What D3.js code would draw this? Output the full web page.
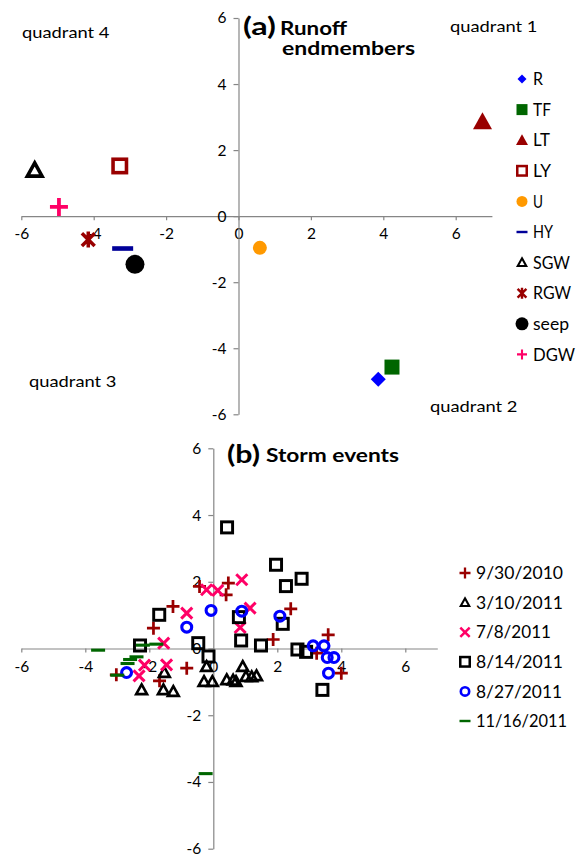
<!DOCTYPE html>
<html><head><meta charset="utf-8">
<script src="https://cdn.jsdelivr.net/npm/d3@7"></script>
<style>body{margin:0;background:#fff}svg{display:block}text{font-family:Lato,"Open Sans",sans-serif}</style>
</head><body>
<svg id="c" width="576" height="856"></svg>
<script>
// ---------- Data ----------
const tickValues = [-6, -4, -2, 0, 2, 4, 6];
const endNames = ["R", "TF", "LT", "LY", "U", "HY", "SGW", "RGW", "seep", "DGW"];
const endX = [3.86, 4.24, 6.74, -3.28, 0.59, -3.2, -5.63, -4.15, -2.86, -4.96];
const endY = [-4.94, -4.57, 2.86, 1.52, -0.96, -0.98, 1.39, -0.71, -1.46, 0.28];
const endColors = ["#0000ff", "#006600", "#990000", "#990000", "#ff9900", "#000099", "#000000", "#990000", "#000000", "#ff0066"];
const endShapes = ["diamond", "squareFill", "triFill", "squareOpen", "circleFill", "dash", "triOpen", "star", "circleFill", "plus"];
const quadrantLabels = ["quadrant 4", "quadrant 1", "quadrant 3", "quadrant 2"];

const stormNames = ["9/30/2010", "3/10/2011", "7/8/2011", "8/14/2011", "8/27/2011", "11/16/2011"];
const stormColors = ["#990000", "#000000", "#ff0066", "#000000", "#0000ff", "#006600"];
const stormShapes = ["plus", "triOpen", "cross", "squareOpen", "circleOpen", "dash"];
const s0930X = [-0.43, 0.47, 0.40, -1.26, -1.87, 2.42, 1.87, 3.59, 3.23, 4.00, -0.83, -1.68, -3.03];
const s0930Y = [1.86, 1.96, 1.61, 1.26, 0.61, 1.19, 0.27, 0.41, -0.14, -0.74, -0.59, -0.97, -0.79];
const s0310X = [-2.24, -1.56, -1.25, -1.53, -0.29, -0.03, -0.21, 0.42, 0.71, 0.92, 1.02, 1.20, 1.35, 0.62];
const s0310Y = [-1.24, -1.24, -1.29, -0.72, -0.99, -0.99, -0.54, -0.94, -0.99, -0.54, -0.84, -0.85, -0.82, -0.95];
const s0708X = [-0.21, 0.14, 0.89, 1.15, -0.83, 0.84, -1.55, -1.46, -2.15, -2.32];
const s0708Y = [1.76, 1.74, 2.06, 1.21, 1.06, 0.63, 0.16, -0.49, -0.50, -0.82];
const s0814X = [0.43, 1.96, 2.27, 2.76, 0.80, 2.17, 0.87, 1.49, 2.63, 2.90, 3.41, -0.15, -0.47, -2.29, -1.69];
const s0814Y = [3.63, 2.51, 1.87, 2.09, 0.94, 0.74, 0.24, 0.09, -0.03, -0.10, -1.24, -0.24, 0.16, 0.09, 1.01];
const s0827X = [-0.07, 0.89, 2.08, -0.83, -2.71, 3.12, 3.46, 3.56, 3.77, 3.60];
const s0827Y = [1.14, 1.12, 0.97, 0.64, -0.72, 0.08, 0.08, -0.27, -0.27, -0.74];
const s1116X = [-3.60, -2.20, -1.78, -2.40, -2.60, -2.68, -3.00, -0.24];
const s1116Y = [-0.05, 0.10, 0.13, -0.25, -0.33, -0.45, -0.80, -3.75];
const stormXs = [s0930X, s0310X, s0708X, s0814X, s0827X, s1116X];
const stormYs = [s0930Y, s0310Y, s0708Y, s0814Y, s0827Y, s1116Y];

// ---------- Drawing ----------
const svg = d3.select("#c");
const AXIS = "#868686";

function txt(g, s, x, y, size, width, bold, dy) {
  const t = g.append("text").attr("x", x).attr("y", y).style("font-size", size + "px").attr("fill", "#000").text(s);
  if (bold) t.style("font-weight", "bold");
  if (dy) t.attr("dy", dy);
  if (width) t.attr("textLength", width).attr("lengthAdjust", "spacingAndGlyphs");
  return t;
}

function marker(g, shape, color, s) {
  const h = s / 2;
  switch (shape) {
    case "diamond":
      g.append("path").attr("d", `M0,${-h}L${h},0L0,${h}L${-h},0Z`).attr("fill", color); break;
    case "squareFill":
      g.append("rect").attr("x", -h).attr("y", -h).attr("width", s).attr("height", s).attr("fill", color); break;
    case "triFill":
      g.append("path").attr("d", `M0,${-h}L${h},${h * 0.8}L${-h},${h * 0.8}Z`).attr("fill", color); break;
    case "squareOpen": {
      const sw = s * 0.21;
      g.append("rect").attr("x", -h + sw / 2).attr("y", -h + sw / 2).attr("width", s - sw).attr("height", s - sw)
        .attr("fill", "none").attr("stroke", color).attr("stroke-width", sw); break; }
    case "circleFill":
      g.append("circle").attr("r", h).attr("fill", color); break;
    case "circleOpen": {
      const sw = s * 0.24;
      g.append("circle").attr("r", h - sw / 2).attr("fill", "none").attr("stroke", color).attr("stroke-width", sw); break; }
    case "dash":
      g.append("rect").attr("x", -h).attr("y", -s * 0.11).attr("width", s).attr("height", s * 0.22).attr("fill", color); break;
    case "triOpen": {
      const sw = s * 0.19;
      const a = h - sw * 0.6;
      g.append("path").attr("d", `M0,${-a}L${a},${a * 0.8}L${-a},${a * 0.8}Z`)
        .attr("fill", "none").attr("stroke", color).attr("stroke-width", sw).attr("stroke-linejoin", "miter"); break; }
    case "star": {
      const a = h * 0.8;
      g.append("path").attr("d", `M${-a},${-a}L${a},${a}M${a},${-a}L${-a},${a}M0,${-h}L0,${h}`)
        .attr("stroke", color).attr("stroke-width", s * 0.22); break; }
    case "plus":
      g.append("path").attr("d", `M${-h},0L${h},0M0,${-h}L0,${h}`).attr("stroke", color).attr("stroke-width", s * 0.21); break;
    case "cross": {
      const a = h * 0.85;
      g.append("path").attr("d", `M${-a},${-a}L${a},${a}M${a},${-a}L${-a},${a}`).attr("stroke", color).attr("stroke-width", s * 0.23); break; }
  }
}

function drawAxes(g, x, y) {
  const fmt = d => d < 0 ? "-" + Math.abs(d) : String(d);
  const gx = g.append("g").attr("transform", `translate(0,${y(0)})`)
    .call(d3.axisBottom(x).tickValues(tickValues).tickSize(4).tickSizeOuter(0).tickPadding(8).tickFormat(fmt));
  const gy = g.append("g").attr("transform", `translate(${x(0)},0)`)
    .call(d3.axisLeft(y).tickValues(tickValues).tickSize(5).tickSizeOuter(0).tickPadding(7).tickFormat(fmt));
  [gx, gy].forEach(a => {
    a.selectAll("path,line").attr("stroke", AXIS).attr("stroke-width", 1.2);
    a.selectAll("text").attr("fill", "#000").style("font-size", "15.5px").style("font-family", "Lato, sans-serif");
  });
}

// ----- Panel (a) -----
const xA = d3.scaleLinear().domain([-6, 7]).range([21.3, 491.9]);
const yA = d3.scaleLinear().domain([-6, 6]).range([414.3, 18]);
const gA = svg.append("g");
drawAxes(gA, xA, yA);

const aSizes = [15, 15, 19, 17, 14, 21, 19, 16, 19, 18];
endNames.forEach((n, i) => {
  const g = gA.append("g").attr("transform", `translate(${xA(endX[i])},${yA(endY[i])})`);
  marker(g, endShapes[i], endColors[i], aSizes[i]);
});

const legA = gA.append("g");
const legASizes = [9, 11, 12, 12, 11, 11, 11, 11, 13, 10];
const legAWidths = [10, 18, 17, 18, 10, 20, 37, 38, 36, 42];
endNames.forEach((n, i) => {
  const yy = 79 + i * 30.6;
  const g = legA.append("g").attr("transform", `translate(522,${yy})`);
  marker(g, endShapes[i], endColors[i], legASizes[i]);
  txt(legA, n, 533, yy, 17, legAWidths[i], false, "0.36em");
});

txt(gA, "(a)", 243, 35, 25, 33, true);
txt(gA, "Runoff", 280, 35, 18, 67, true);
txt(gA, "endmembers", 282, 55, 18, 133, true);
const quadPos = [[22, 37.5], [450, 32], [29, 387], [430, 412]];
quadrantLabels.forEach((q, i) => txt(gA, q, quadPos[i][0], quadPos[i][1], 16, 87.5, false));

// ----- Panel (b) -----
const xB = d3.scaleLinear().domain([-6, 7]).range([21.3, 437.3]);
const yB = d3.scaleLinear().domain([-6, 6]).range([848.7, 448.3]);
const gB = svg.append("g");
drawAxes(gB, xB, yB);

const bSizes = [13, 14, 13, 14, 13, 14];
stormNames.forEach((n, k) => {
  const xs = stormXs[k], ys = stormYs[k];
  xs.forEach((v, i) => {
    const g = gB.append("g").attr("transform", `translate(${xB(v)},${yB(ys[i])})`);
    marker(g, stormShapes[k], stormColors[k], bSizes[k]);
  });
});

const legB = gB.append("g");
const legBSizes = [11, 11, 11, 12, 11, 11];
const legBWidths = [87, 87, 75, 87, 86, 91];
stormNames.forEach((n, i) => {
  const yy = 573 + i * 29.6;
  const g = legB.append("g").attr("transform", `translate(465,${yy})`);
  marker(g, stormShapes[i], stormColors[i], legBSizes[i]);
  txt(legB, n, 476, yy, 17, legBWidths[i], false, "0.36em");
});

txt(gB, "(b)", 227, 463, 25, 33, true);
txt(gB, "Storm events", 266, 462, 19, 133, true);
</script>
</body></html>
